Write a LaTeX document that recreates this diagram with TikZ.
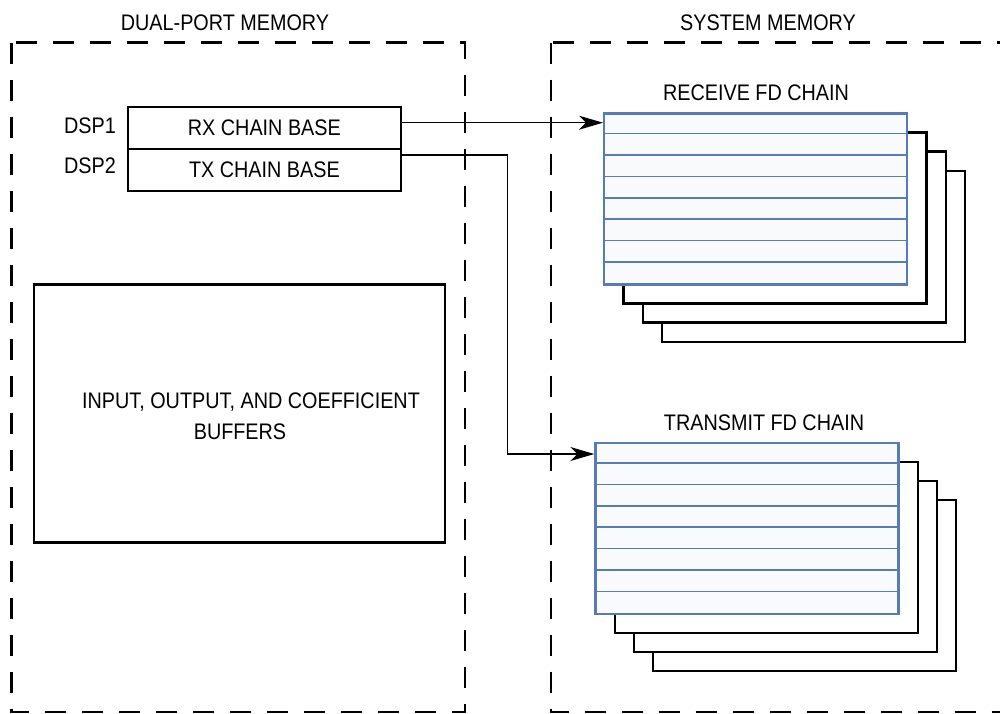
\documentclass[tikz,border=0pt]{standalone}
\usepackage{fontspec}
\setmainfont[FakeStretch=0.88]{Liberation Sans}
\usetikzlibrary{arrows.meta,calc}
\definecolor{chainblue}{RGB}{88,122,182}
\definecolor{chainfill}{RGB}{248,250,252}
\begin{document}
\begin{tikzpicture}[x=1pt,y=-1pt,
  every node/.style={font=\fontsize{22.5}{30}\selectfont},
  memframe/.style={draw, line width=2.5pt, dash pattern=on 21pt off 16pt},
  basebox/.style={draw, line width=2.4pt, minimum width=273pt, minimum height=42pt, inner sep=0pt, anchor=north west},
  bufbox/.style={draw, line width=2.4pt, minimum width=411pt, minimum height=258pt, inner sep=0pt, anchor=north west},
  backbox/.style={draw, fill=white, line width=2.4pt, minimum width=303pt, minimum height=171pt, inner sep=0pt, anchor=north west},
  frontbox/.style={draw=chainblue, fill=chainfill, line width=2.4pt, minimum width=303pt, minimum height=171pt, inner sep=0pt, anchor=north west},
  rowline/.style={draw=chainblue, line width=1.6pt},
  lbl/.style={inner sep=0pt},
  conn/.style={draw, line width=1.4pt, -{Stealth[length=24pt,width=14pt,inset=7pt]}}
]
\useasboundingbox (0,0) rectangle (1000,713);

% memory frames
\draw[memframe] (11.7,42.7) rectangle (465,712);
\begin{scope}
  \clip (0,0) rectangle (1000,713);
  \draw[memframe] (551,42.7) rectangle (1040,712);
\end{scope}
\node[lbl] (dpmlbl) at (225,23) {DUAL-PORT MEMORY};
\node[lbl] (smlbl) at (768,23) {SYSTEM MEMORY};

% chain base registers
\node[basebox] (rxb) at (126.7,105.5) {RX CHAIN BASE};
\node[basebox] (txb) at (126.7,147.5) {TX CHAIN BASE};
\node[lbl] (dsp1) at (90,125.7) {DSP1};
\node[lbl] (dsp2) at (90,166) {DSP2};

% buffers
\node[bufbox] (buf) at (32.7,283.3) {};
\node[lbl] (buf1) at (251,401.7) {INPUT, OUTPUT, AND COEFFICIENT};
\node[lbl] (buf2) at (240,432) {BUFFERS};

% receive FD chain
\node[backbox] (rx3) at (660.8,169.6) {};
\node[backbox] (rx2) at (641.6,150.3) {};
\node[backbox] (rx1) at (622.4,131.1) {};
\node[frontbox] (rxf) at (603,112.3) {};
\foreach \i in {1,...,7}
  \draw[rowline] ($(rxf.north west)+(0,21.375*\i)$) -- ($(rxf.north east)+(0,21.375*\i)$);
\node[lbl] (rxlbl) at (756,93) {RECEIVE FD CHAIN};

% transmit FD chain
\node[backbox] (tx3) at (651.7,498.5) {};
\node[backbox] (tx2) at (632.6,479.5) {};
\node[backbox] (tx1) at (613.5,460.5) {};
\node[frontbox] (txf) at (594.3,441.7) {};
\foreach \i in {1,...,7}
  \draw[rowline] ($(txf.north west)+(0,21.375*\i)$) -- ($(txf.north east)+(0,21.375*\i)$);
\node[lbl] (txlbl) at (764,423) {TRANSMIT FD CHAIN};

% connectors
\coordinate (rxin) at ($(rxf.north west)+(0,10.4)$);
\coordinate (txin) at ($(txf.north west)+(0,12.3)$);
\coordinate (txbend) at (507.7,155);
\draw[conn] (rxb.east |- rxin) -- (rxin);
\draw[conn] (txb.east |- txbend) -- (txbend) |- (txin);
\end{tikzpicture}
\end{document}
